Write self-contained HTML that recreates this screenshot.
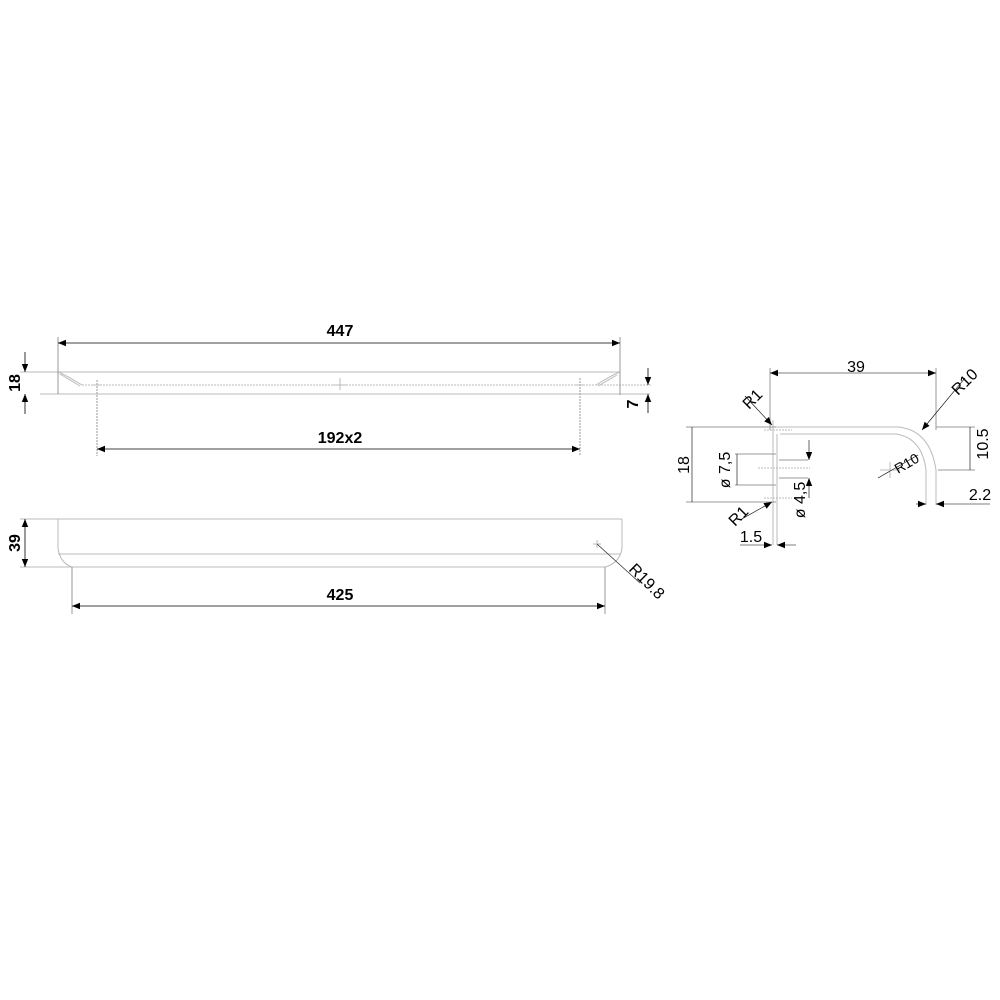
<!DOCTYPE html>
<html><head><meta charset="utf-8"><style>
html,body{margin:0;padding:0;background:#fff;width:1000px;height:1000px;overflow:hidden}
text{font-family:"Liberation Sans",sans-serif;fill:#000}
</style></head><body>
<svg width="1000" height="1000" viewBox="0 0 1000 1000" xmlns="http://www.w3.org/2000/svg">
<defs>
<marker id="a" viewBox="0 0 10 10" refX="10" refY="5" markerWidth="10" markerHeight="8" orient="auto-start-reverse" markerUnits="userSpaceOnUse"><path d="M0,1 L10,5 L0,9 z" fill="#000"/></marker>
</defs>
<g stroke="#bbb" stroke-width="1" fill="none">
<line x1="58" y1="372" x2="620" y2="372"/>
<line x1="40" y1="394" x2="650" y2="394"/>
<line x1="82" y1="385" x2="652" y2="385" stroke-dasharray="2,1"/>
<path d="M58,372 Q62,373 82,385 M60,374 L80,386"/>
<path d="M620,372 Q614,374 596,385 M617,375 L598,386"/>
<line x1="20" y1="372" x2="58" y2="372"/>
<line x1="58" y1="337" x2="58" y2="394" stroke="#999"/>
<line x1="620" y1="337" x2="620" y2="395" stroke="#999"/>
<line x1="97" y1="380" x2="97" y2="456" stroke="#999" stroke-dasharray="2,1"/>
<line x1="580" y1="378" x2="580" y2="456" stroke="#999" stroke-dasharray="2,1"/>
<path d="M92,385h10M340,378v12M333,385h14M575,385h10"/>
<line x1="20" y1="519" x2="622" y2="519"/>
<line x1="58" y1="554" x2="620" y2="554"/>
<line x1="20" y1="567" x2="605" y2="567"/>
<path d="M58,519 V548 Q60,563 72,567"/>
<path d="M622,519 V548 Q620,563 605,567"/>
<line x1="72" y1="567" x2="72" y2="614" stroke="#999"/>
<line x1="605" y1="567" x2="605" y2="614" stroke="#999"/>
<path d="M593,544h8M597,540v8"/>
<line x1="770" y1="368" x2="770" y2="430" stroke="#999"/>
<line x1="936" y1="368" x2="936" y2="430" stroke="#999"/>
<path d="M776,427 H898 Q930,430 936,470 V505"/>
<path d="M780,434 H896 Q922,438 926,470 V505"/>
<line x1="773" y1="420" x2="773" y2="545"/>
<line x1="777" y1="434" x2="777" y2="545"/>
<line x1="686" y1="427" x2="776" y2="427" stroke="#999"/>
<line x1="686" y1="502" x2="776" y2="502" stroke="#999"/>
<line x1="735" y1="454" x2="776" y2="454" stroke="#999"/>
<line x1="735" y1="485" x2="776" y2="485" stroke="#999"/>
<line x1="779" y1="460" x2="808" y2="460" stroke="#999"/>
<line x1="779" y1="478" x2="808" y2="478" stroke="#999"/>
<path d="M758,468h52M764,430h28M764,498h28" stroke-dasharray="2,1"/>
<line x1="938" y1="470" x2="975" y2="470" stroke="#999"/>
<line x1="936" y1="427" x2="975" y2="427" stroke="#999"/>
<path d="M880,470h20M890,462v16"/>
</g>
<g stroke="#000" stroke-width="0.8" fill="none">
<line x1="58" y1="343" x2="620" y2="343" marker-start="url(#a)" marker-end="url(#a)"/>
<line x1="97" y1="449" x2="580" y2="449" marker-start="url(#a)" marker-end="url(#a)"/>
<line x1="25" y1="352" x2="25" y2="372" marker-end="url(#a)"/>
<line x1="25" y1="414" x2="25" y2="394" marker-end="url(#a)"/>
<line x1="648" y1="368" x2="648" y2="385" marker-end="url(#a)"/>
<line x1="648" y1="413" x2="648" y2="394" marker-end="url(#a)"/>
<line x1="25" y1="519" x2="25" y2="567" marker-start="url(#a)" marker-end="url(#a)"/>
<line x1="72" y1="606" x2="605" y2="606" marker-start="url(#a)" marker-end="url(#a)"/>
<line x1="597" y1="544" x2="640" y2="583" stroke="#333"/>
<line x1="770" y1="373" x2="936" y2="373" marker-start="url(#a)" marker-end="url(#a)" stroke-width="0.6"/>
<line x1="692" y1="427" x2="692" y2="502" stroke-width="0.6"/>
<line x1="737" y1="454" x2="737" y2="485" stroke-width="0.6"/>
<line x1="809" y1="440" x2="809" y2="460" marker-end="url(#a)" stroke-width="0.6"/>
<line x1="809" y1="498" x2="809" y2="478" marker-end="url(#a)" stroke-width="0.6"/>
<line x1="970" y1="427" x2="970" y2="470" stroke-width="0.6"/>
<line x1="745" y1="396" x2="772" y2="425" marker-end="url(#a)" stroke-width="0.6"/>
<line x1="740" y1="520" x2="772" y2="502" marker-end="url(#a)" stroke-width="0.6"/>
<line x1="965" y1="378" x2="922" y2="430" marker-end="url(#a)" stroke-width="0.6"/>
<line x1="878" y1="478" x2="918" y2="455" stroke-width="0.6"/>
<line x1="740" y1="545" x2="772" y2="545" marker-end="url(#a)" stroke-width="0.6"/>
<line x1="796" y1="545" x2="777" y2="545" marker-end="url(#a)" stroke-width="0.6"/>
<line x1="916" y1="504" x2="926" y2="504" marker-end="url(#a)" stroke-width="0.6"/>
<line x1="990" y1="504" x2="936" y2="504" marker-end="url(#a)" stroke-width="0.6"/>
</g>
<g font-weight="bold" font-size="16">
<text x="340" y="336" text-anchor="middle">447</text>
<text x="340" y="443" text-anchor="middle">192x2</text>
<text x="340" y="600" text-anchor="middle">425</text>
<text transform="translate(20,383) rotate(-90)" text-anchor="middle">18</text>
<text transform="translate(20,543) rotate(-90)" text-anchor="middle">39</text>
<text transform="translate(638,404) rotate(-90)" text-anchor="middle">7</text>
</g>
<g font-size="16">
<text transform="translate(628,570) rotate(45)">R19.8</text>
<text x="856" y="372" text-anchor="middle">39</text>
<text transform="translate(958,396) rotate(-45)">R10</text>
<text transform="translate(898,474) rotate(-30)" font-size="14">R10</text>
<text transform="translate(749,410) rotate(-45)">R1</text>
<text transform="translate(735,527) rotate(-45)">R1</text>
<text transform="translate(689,465) rotate(-90)" text-anchor="middle">18</text>
<text transform="translate(730,470) rotate(-90)" text-anchor="middle">ø 7,5</text>
<text transform="translate(805,500) rotate(-90)" text-anchor="middle">ø 4,5</text>
<text transform="translate(988,444) rotate(-90)" text-anchor="middle">10.5</text>
<text x="980" y="500" text-anchor="middle">2.2</text>
<text x="751" y="542" text-anchor="middle">1.5</text>
</g>
</svg>
</body></html>
